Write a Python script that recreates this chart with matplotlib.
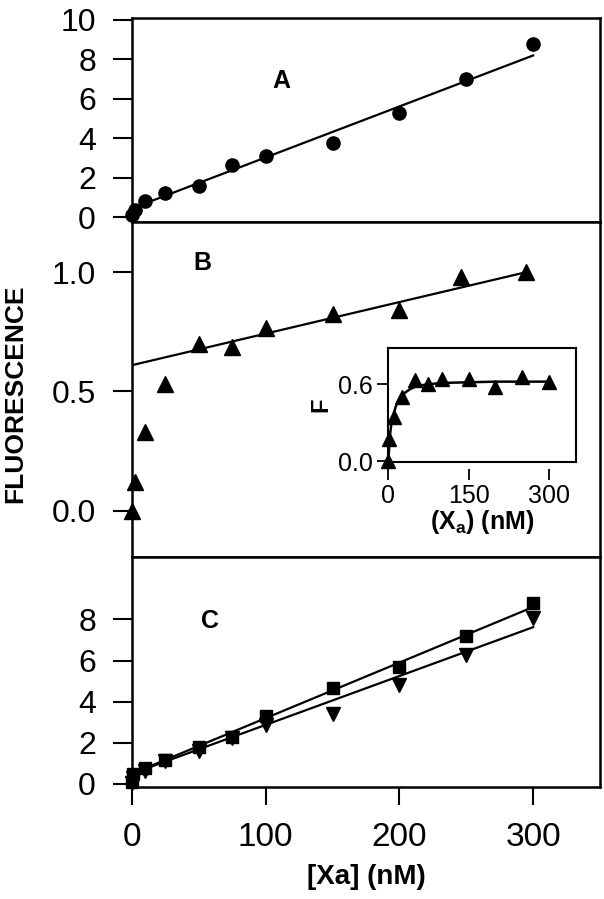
import matplotlib
matplotlib.use("Agg")
import matplotlib.pyplot as plt

plt.rcParams['font.family'] = ['Liberation Sans', 'DejaVu Sans']
plt.rcParams['mathtext.fontset'] = 'custom'
plt.rcParams['mathtext.rm'] = 'Liberation Sans'
plt.rcParams['mathtext.bf'] = 'Liberation Sans:bold'

# panel A
xa = [0, 2, 10, 25, 50, 75, 100, 150, 200, 250, 300]
ya = [0.1, 0.35, 0.8, 1.2, 1.6, 2.65, 3.1, 3.75, 5.3, 7.0, 8.8]
fit_a_x = [0, 300]
fit_a_y = [0.44, 8.2]

# panel B
xb = [0, 2, 10, 25, 50, 75, 100, 150, 200, 246, 295]
yb = [0.0, 0.12, 0.33, 0.53, 0.70, 0.685, 0.765, 0.825, 0.84, 0.98, 1.0]
fit_b_x = [0, 295]
fit_b_y = [0.61, 1.0]

# inset
xi = [0, 1, 10, 25, 50, 75, 100, 150, 200, 250, 300]
yi = [0.0, 0.17, 0.345, 0.50, 0.63, 0.60, 0.64, 0.64, 0.577, 0.66, 0.614]
curve_x = [0, 3, 6, 10, 15, 20, 30, 40, 50, 60, 75, 100, 150, 200, 300]
curve_y = [0, 0.2, 0.3, 0.37, 0.44, 0.48, 0.53, 0.56, 0.58, 0.59, 0.60, 0.61, 0.615, 0.62, 0.62]

# panel C
xc = [0, 1, 10, 25, 50, 75, 100, 150, 200, 250, 300]
yc_sq = [0.1, 0.5, 0.78, 1.15, 1.8, 2.3, 3.3, 4.65, 5.7, 7.2, 8.8]
yc_tri = [0.05, 0.3, 0.62, 1.1, 1.6, 2.25, 2.85, 3.4, 4.8, 6.25, 8.06]
fit_c_x = [0, 300]
fit_c_sq = [0.5, 8.6]
fit_c_tri = [0.5, 7.62]

W, H = 604, 899
fig = plt.figure(figsize=(W / 100, H / 100), dpi=100)

left = 132 / W
width = (600 - 132) / W

def panel(top, bottom):
    return fig.add_axes([left, 1 - bottom / H, width, (bottom - top) / H])

axA = panel(18, 222)
axB = panel(222, 557)
axC = panel(557, 787)

for ax in (axA, axB, axC):
    ax.set_xlim(0, 350)
    for s in ax.spines.values():
        s.set_linewidth(1.8)
    ax.tick_params(axis='y', direction='out', length=14, width=1.5,
                   labelsize=23, pad=12)
    ax.tick_params(axis='x', direction='out', length=13, width=1.5,
                   labelsize=24, pad=12)

axA.set_xticks([])
axB.set_xticks([])

# A
axA.plot(xa, ya, 'o', color='k', ms=9.5, clip_on=False, zorder=3)
axA.plot(fit_a_x, fit_a_y, '-', color='k', lw=1.6)
axA.set_ylim(-0.25, 10.1)
axA.set_yticks([0, 2, 4, 6, 8, 10])
axA.text(112, 6.9, 'A', fontsize=18, fontweight='bold', ha='center', va='center')

# B
axB.plot(xb, yb, '^', color='k', ms=11, clip_on=False, zorder=3)
axB.plot(fit_b_x, fit_b_y, '-', color='k', lw=1.6)
axB.set_ylim(-0.194, 1.21)
axB.set_yticks([0.0, 0.5, 1.0])
axB.set_yticklabels(['0.0', '0.5', '1.0'])
axB.text(53, 1.04, 'B', fontsize=18, fontweight='bold', ha='center', va='center')

# y label for the whole figure
fig.text(15 / W, 1 - 394 / H, 'FLUORESCENCE', rotation=90, fontsize=19,
         fontweight='bold', ha='center', va='center')

# inset
axI = fig.add_axes([388.3 / W, 1 - 461.7 / H, 187.4 / W, 114 / H])
axI.plot(xi, yi, '^', color='k', ms=10, clip_on=False, zorder=3)
axI.plot(curve_x, curve_y, '-', color='k', lw=1.8)
axI.set_xlim(0, 350)
axI.set_ylim(-0.005, 0.885)
axI.set_yticks([0.0, 0.6])
axI.set_yticklabels(['0.0', '0.6'])
axI.set_xticks([0, 150, 300])
for s in axI.spines.values():
    s.set_linewidth(1.5)
axI.spines['bottom'].set_position(('outward', 5))
axI.spines['bottom'].set_visible(False)
axI.plot([0, 1], [0, 0], transform=axI.transAxes, color='k', lw=1.5, clip_on=False)
axI.tick_params(axis='both', direction='out', length=8, width=1.3, labelsize=18, pad=3)
axI.set_ylabel('F', fontsize=17, fontweight='bold', labelpad=4)
axI.set_xlabel(r'(X$_\mathbf{a}$) (nM)', fontsize=18, fontweight='bold', labelpad=0)

# C
axC.plot(xc, yc_sq, 's', color='k', ms=8.5, clip_on=False, zorder=3)
axC.plot(xc, yc_tri, 'v', color='k', ms=9.5, clip_on=False, zorder=3)
axC.plot(fit_c_x, fit_c_sq, '-', color='k', lw=1.6)
axC.plot(fit_c_x, fit_c_tri, '-', color='k', lw=1.6)
axC.set_ylim(-0.146, 11.03)
axC.set_yticks([0, 2, 4, 6, 8])
axC.set_xticks([0, 100, 200, 300])
axC.text(58, 7.9, 'C', fontsize=18, fontweight='bold', ha='center', va='center')
axC.set_xlabel('[Xa] (nM)', fontsize=20, fontweight='bold', labelpad=8)

fig.savefig('out.png', dpi=100)
